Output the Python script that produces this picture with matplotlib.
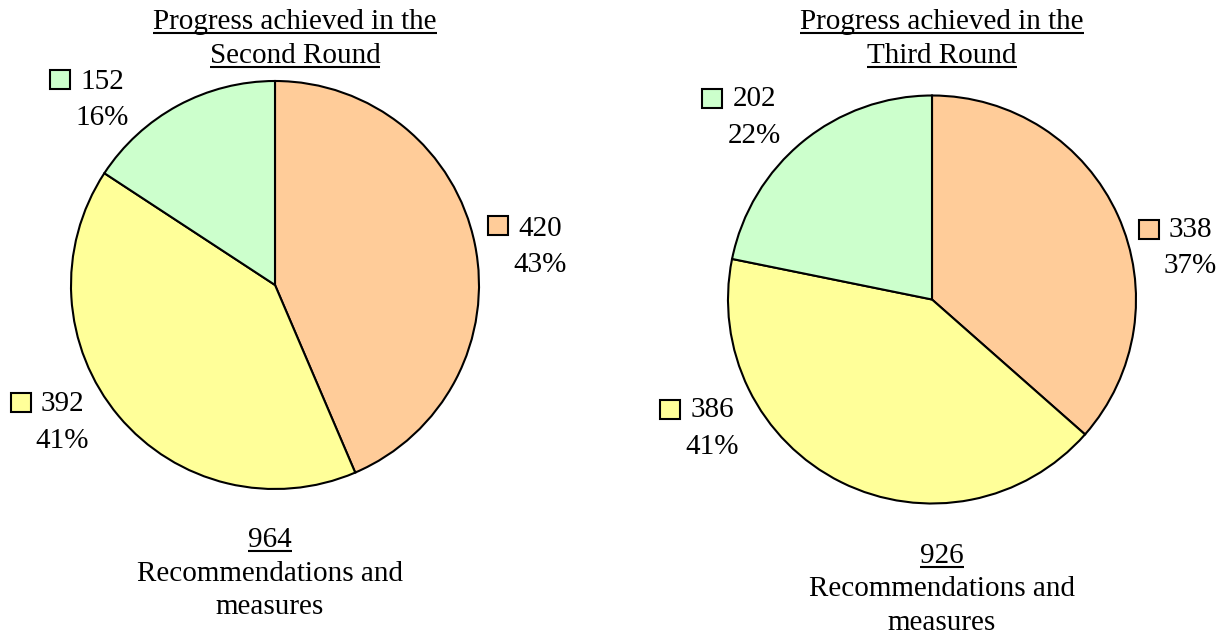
import matplotlib
matplotlib.use("Agg")
import matplotlib.pyplot as plt
from matplotlib.patches import Rectangle

# data (slice order: clockwise from 12 o'clock)
slice_colors = ["#FFCC99", "#FFFF99", "#CCFFCC"]
second_values = [420, 392, 152]
second_pct = ["43%", "41%", "16%"]
third_values = [338, 386, 202]
third_pct = ["37%", "41%", "22%"]
titles = [["Progress achieved in the", "Second Round"],
          ["Progress achieved in the", "Third Round"]]
total_caption = ["Recommendations and", "measures"]

W, H = 1228, 635
plt.rcParams['font.family'] = ['Liberation Serif', 'DejaVu Serif']
FS = 21
LW = 1.5

fig = plt.figure(figsize=(W / 100, H / 100), dpi=100)
bg = fig.add_axes([0, 0, 1, 1])
bg.set_xlim(0, W)
bg.set_ylim(H, 0)
bg.axis("off")


def underlined(x, y, s):
    t = bg.text(x, y, s, fontsize=FS, ha="center", va="baseline")
    r = fig.canvas.get_renderer()
    bb = t.get_window_extent(renderer=r)
    bg.plot([bb.x0, bb.x1], [y + 4, y + 4], color="black", lw=LW,
            solid_capstyle="butt")


def draw_pie(values, pcts, cx, cy, r, title, title_x, title_base,
             total_x, total_base, label_pos):
    pad = 5
    ax = fig.add_axes([(cx - r - pad) / W, (H - cy - r - pad) / H,
                       2 * (r + pad) / W, 2 * (r + pad) / H])
    ax.pie(values, colors=slice_colors, startangle=90, counterclock=False,
           wedgeprops=dict(edgecolor="black", linewidth=LW))
    lim = (r + pad) / r
    ax.set_xlim(-lim, lim)
    ax.set_ylim(-lim, lim)
    ax.axis("off")

    for line, yb in zip(title, title_base):
        underlined(title_x, yb, line)

    underlined(total_x, total_base[0], str(sum(values)))
    for line, yb in zip(total_caption, total_base[1:]):
        bg.text(total_x, yb, line, fontsize=FS, ha="center", va="baseline")

    for v, p, c, (sx, sy, tx, b1, b2) in zip(values, pcts, slice_colors, label_pos):
        bg.add_patch(Rectangle((sx, sy), 20, 19, facecolor=c,
                               edgecolor="black", lw=LW))
        bg.text(tx, b1, str(v), fontsize=FS, ha="center", va="baseline")
        bg.text(tx, b2, p, fontsize=FS, ha="center", va="baseline")


draw_pie(second_values, second_pct, 275, 285, 204, titles[0], 295, [29, 63],
         270, [547, 581, 614],
         [(488, 216, 540, 236, 272),
          (11, 393, 62, 411, 448),
          (50, 70, 102, 89, 125)])

draw_pie(third_values, third_pct, 932, 299.5, 204, titles[1], 942, [29, 63],
         942, [563, 596, 630],
         [(1139, 220, 1190, 237, 273),
          (660, 400, 712, 417, 454),
          (702, 89, 754, 106, 143)])

fig.savefig("out.png", dpi=100)
